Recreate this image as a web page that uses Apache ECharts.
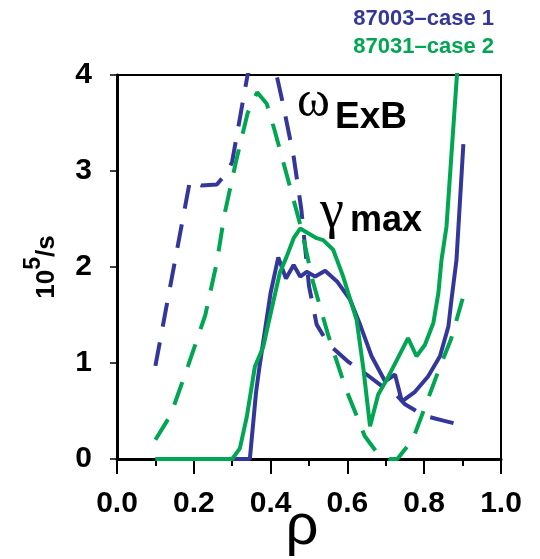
<!DOCTYPE html>
<html>
<head>
<meta charset="utf-8">
<script src="https://cdn.jsdelivr.net/npm/echarts@6/dist/echarts.min.js"></script>
<style>
html,body{margin:0;padding:0;background:#fff;}
#chart{width:540px;height:559px;}
</style>
</head>
<body>
<div id="chart"></div>
<script>
// ---- data ----
var xTickLabels = ['0.0', '0.2', '0.4', '0.6', '0.8', '1.0'];
var yTickLabels = ['0', '1', '2', '3', '4'];

// case 1 (87003) omega ExB (dashed, blue)
var case1OmegaRho = [0.10, 0.19, 0.22, 0.26, 0.29, 0.30, 0.34, 0.37, 0.41, 0.43, 0.46, 0.48, 0.50, 0.52, 0.55, 0.60, 0.65, 0.69, 0.72, 0.75, 0.80, 0.85, 0.88, 0.90];
var case1OmegaVal = [0.97, 2.90, 2.85, 2.86, 3.00, 3.10, 4.00, 4.30, 4.10, 3.74, 3.15, 2.60, 1.80, 1.40, 1.20, 1.02, 0.88, 0.76, 0.70, 0.57, 0.45, 0.40, 0.37, 0.40];

// case 2 (87031) omega ExB (dashed, green)
var case2OmegaRho = [0.10, 0.14, 0.185, 0.23, 0.26, 0.28, 0.31, 0.34, 0.365, 0.39, 0.41, 0.455, 0.48, 0.51, 0.55, 0.595, 0.645, 0.68, 0.71, 0.73, 0.77, 0.80, 0.84, 0.87, 0.90];
var case2OmegaVal = [0.20, 0.46, 0.97, 1.50, 2.05, 2.55, 3.10, 3.60, 3.82, 3.70, 3.43, 2.77, 2.40, 1.85, 1.29, 0.74, 0.24, 0.05, 0.00, 0.00, 0.20, 0.52, 0.95, 1.25, 1.67];

// case 1 (87003) gamma max (solid, blue)
var case1GammaRho = [0.10, 0.346, 0.362, 0.371, 0.40, 0.42, 0.44, 0.46, 0.477, 0.494, 0.516, 0.542, 0.573, 0.607, 0.633, 0.663, 0.698, 0.724, 0.742, 0.776, 0.81, 0.841, 0.863, 0.871, 0.884, 0.902];
var case1GammaVal = [0.00, 0.00, 0.69, 0.96, 1.73, 2.10, 1.88, 2.02, 1.90, 1.95, 1.90, 1.96, 1.85, 1.66, 1.40, 1.07, 0.81, 0.88, 0.60, 0.70, 0.86, 1.07, 1.38, 1.66, 2.07, 3.28];

// case 2 (87031) gamma max (solid, green)
var case2GammaRho = [0.10, 0.30, 0.32, 0.338, 0.359, 0.381, 0.402, 0.424, 0.441, 0.46, 0.477, 0.52, 0.537, 0.563, 0.589, 0.602, 0.624, 0.642, 0.659, 0.68, 0.707, 0.758, 0.78, 0.802, 0.824, 0.837, 0.845, 0.858, 0.887];
var case2GammaVal = [0.00, 0.00, 0.11, 0.44, 0.96, 1.17, 1.55, 1.94, 2.10, 2.30, 2.40, 2.30, 2.28, 2.18, 1.90, 1.73, 1.45, 0.93, 0.34, 0.67, 0.86, 1.26, 1.07, 1.19, 1.42, 1.73, 2.07, 2.42, 4.10];

// ---- build ----
function pairs(xs, ys) {
  var out = [];
  for (var i = 0; i < xs.length; i++) out.push([xs[i], ys[i]]);
  return out;
}
var BLUE = '#34379a';
var GREEN = '#00a651';
var FONT = "'Liberation Sans', Arial, sans-serif";
var SERIF = "'Liberation Serif', 'Times New Roman', serif";
var DASH = [24, 16];

var chart = echarts.init(document.getElementById('chart'), null, {renderer: 'canvas'});
chart.setOption({
  animation: false,
  backgroundColor: '#fff',
  grid: {left: 117, right: 39, top: 75, bottom: 100, containLabel: false, outerBoundsMode: 'none',
    show: true, borderColor: '#000', borderWidth: 2, backgroundColor: 'transparent'},
  xAxis: {
    type: 'value', min: 0, max: 1, interval: 0.2,
    name: 'ρ', nameLocation: 'middle', nameGap: 40, nameMoveOverlap: false,
    nameTextStyle: {fontFamily: FONT, fontSize: 58, color: '#000', lineHeight: 58, padding: [0, 14, 0, 0]},
    axisLine: {show: true, onZero: false, lineStyle: {color: '#000', width: 3}},
    axisTick: {show: true, length: 15, lineStyle: {color: '#000', width: 2}},
    minorTick: {show: true, splitNumber: 2, length: 7, lineStyle: {color: '#000', width: 2}},
    splitLine: {show: false},
    axisLabel: {
      margin: 30, color: '#000', fontFamily: FONT, fontWeight: 'bold', fontSize: 30,
      formatter: function (v) { return xTickLabels[Math.round(v / 0.2)]; }
    }
  },
  yAxis: {
    type: 'value', min: 0, max: 4, interval: 1,
    name: '{a|10}{b|5}{a|/s}', nameLocation: 'middle', nameGap: 57, nameRotate: 90, nameMoveOverlap: false,
    nameTextStyle: {
      rich: {
        a: {fontFamily: FONT, fontWeight: 'bold', fontSize: 26, color: '#000', lineHeight: 38, verticalAlign: 'bottom'},
        b: {fontFamily: FONT, fontWeight: 'bold', fontSize: 23, color: '#000', lineHeight: 38, verticalAlign: 'top'}
      }
    },
    axisLine: {show: true, onZero: false, lineStyle: {color: '#000', width: 3}},
    axisTick: {show: true, length: 7, lineStyle: {color: '#000', width: 1.5}},
    splitLine: {show: false},
    axisLabel: {
      margin: 25, color: '#000', fontFamily: FONT, fontWeight: 'bold', fontSize: 30,
      formatter: function (v) { return yTickLabels[Math.round(v)]; }
    }
  },
  series: [
    {name: '87003–case 1 ωExB', type: 'line', data: pairs(case1OmegaRho, case1OmegaVal), showSymbol: false, symbol: 'none',
      lineStyle: {color: BLUE, width: 4, type: DASH, cap: 'butt'}, z: 3},
    {name: '87031–case 2 ωExB', type: 'line', data: pairs(case2OmegaRho, case2OmegaVal), showSymbol: false, symbol: 'none',
      lineStyle: {color: GREEN, width: 4, type: DASH, cap: 'butt'}, z: 3},
    {name: '87003–case 1 γmax', type: 'line', data: pairs(case1GammaRho, case1GammaVal), showSymbol: false, symbol: 'none',
      lineStyle: {color: BLUE, width: 4}, z: 4},
    {name: '87031–case 2 γmax', type: 'line', data: pairs(case2GammaRho, case2GammaVal), showSymbol: false, symbol: 'none',
      lineStyle: {color: GREEN, width: 4}, z: 5}
  ],
  graphic: [
    {type: 'text', right: 46, top: 8, style: {text: '87003–case 1', fill: BLUE, font: 'bold 22px ' + FONT}},
    {type: 'text', right: 46, top: 36, style: {text: '87031–case 2', fill: GREEN, font: 'bold 22px ' + FONT}},
    {type: 'text', x: 297, y: 103, style: {text: 'ω', fill: '#000', font: '50px ' + SERIF, textVerticalAlign: 'middle'}},
    {type: 'text', x: 335, y: 118, style: {text: 'ExB', fill: '#000', font: 'bold 37px ' + FONT, textVerticalAlign: 'middle'}},
    {type: 'text', x: 320, y: 213, style: {text: 'γ', fill: '#000', font: '54px ' + SERIF, textVerticalAlign: 'middle'}},
    {type: 'text', x: 350, y: 221, style: {text: 'max', fill: '#000', font: 'bold 36px ' + FONT, textVerticalAlign: 'middle'}}
  ]
});
</script>
</body>
</html>
